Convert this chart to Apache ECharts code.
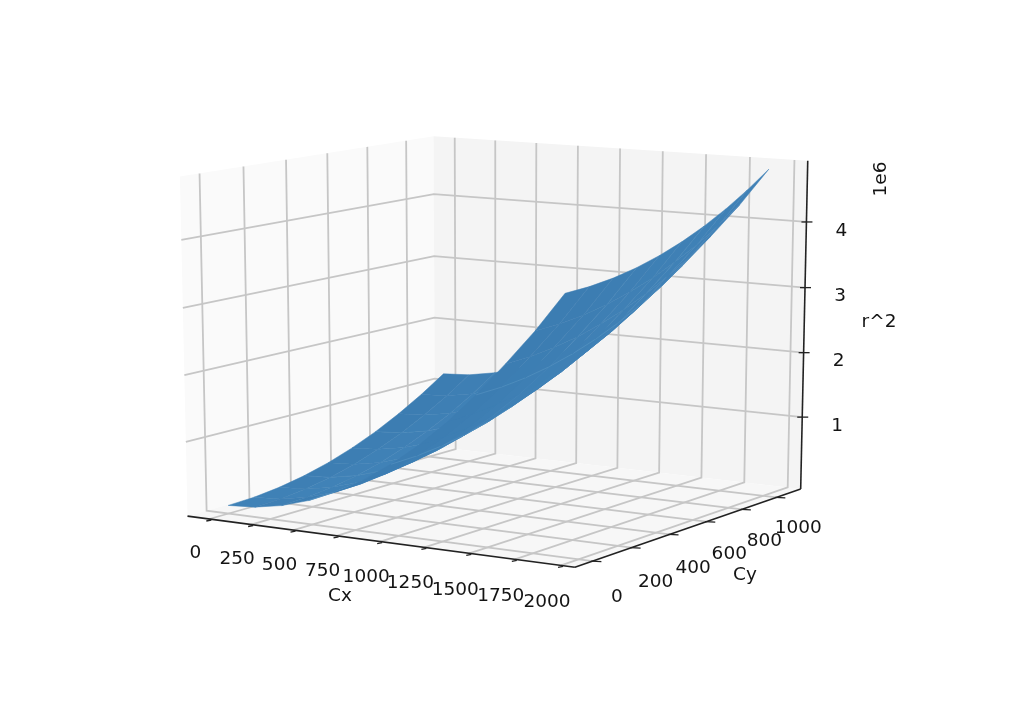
<!DOCTYPE html>
<html>
<head>
<meta charset="utf-8">
<style>html,body{margin:0;padding:0;background:#fff}#chart{width:1024px;height:701px}</style>
<script src="https://cdn.jsdelivr.net/npm/echarts@6/dist/echarts.min.js"></script>
</head>
<body>
<div id="chart"></div>
<script>
// ---- data ----
var cxValues = [0, 160, 320, 480, 640, 800, 960, 1120, 1280, 1440, 1600, 1760, 1920];
var cyValues = [0, 120, 240, 360, 480, 600, 720, 840, 960, 1080];
// r^2 in units of 1e6, one row per Cy value
var r2AtCy0    = [0.000, 0.026, 0.102, 0.230, 0.410, 0.640, 0.922, 1.254, 1.638, 2.074, 2.560, 3.068, 3.636];
var r2AtCy120  = [0.014, 0.040, 0.117, 0.245, 0.424, 0.654, 0.936, 1.269, 1.653, 2.088, 2.574, 3.082, 3.651];
var r2AtCy240  = [0.058, 0.083, 0.160, 0.288, 0.467, 0.698, 0.979, 1.312, 1.696, 2.131, 2.618, 3.125, 3.694];
var r2AtCy360  = [0.130, 0.155, 0.232, 0.360, 0.539, 0.770, 1.051, 1.384, 1.768, 2.203, 2.690, 3.197, 3.766];
var r2AtCy480  = [0.230, 0.256, 0.333, 0.461, 0.640, 0.870, 1.152, 1.485, 1.869, 2.304, 2.790, 3.298, 3.867];
var r2AtCy600  = [0.360, 0.386, 0.462, 0.590, 0.770, 1.000, 1.282, 1.614, 1.998, 2.434, 2.920, 3.428, 3.996];
var r2AtCy720  = [0.518, 0.544, 0.621, 0.749, 0.928, 1.158, 1.440, 1.773, 2.157, 2.592, 3.078, 3.586, 4.155];
var r2AtCy840  = [0.706, 0.731, 0.808, 0.936, 1.115, 1.346, 1.627, 1.960, 2.344, 2.779, 3.266, 3.773, 4.342];
var r2AtCy960  = [0.922, 0.947, 1.024, 1.152, 1.331, 1.562, 1.843, 2.176, 2.560, 2.995, 3.482, 3.989, 4.558];
var r2AtCy1080 = [1.166, 1.192, 1.269, 1.397, 1.576, 1.806, 2.088, 2.421, 2.805, 3.240, 3.726, 4.234, 4.803];
var r2Rows = [r2AtCy0, r2AtCy120, r2AtCy240, r2AtCy360, r2AtCy480, r2AtCy600, r2AtCy720, r2AtCy840, r2AtCy960, r2AtCy1080];
var cxTicks = [0, 250, 500, 750, 1000, 1250, 1500, 1750, 2000];
var cyTicks = [0, 200, 400, 600, 800, 1000];
var r2Ticks = [1, 2, 3, 4];
var cxLabel = 'Cx', cyLabel = 'Cy', r2Label = 'r^2', r2Offset = '1e6';

// ---- 3D view (same perspective model as a mplot3d camera) ----
var xLim = [-131.8, 2074.1], yLim = [-87.3, 1144.9], zLim = [-0.125, 4.923];
var elev = 11.696 * Math.PI / 180, azim = -57.779 * Math.PI / 180, dist = 8.592;
var n = [Math.cos(elev) * Math.cos(azim), Math.cos(elev) * Math.sin(azim), Math.sin(elev)];
var u = [-Math.sin(azim), Math.cos(azim), 0];
var v = [n[1] * u[2] - n[2] * u[1], n[2] * u[0] - n[0] * u[2], n[0] * u[1] - n[1] * u[0]];
function dot(a, b) { return a[0] * b[0] + a[1] * b[1] + a[2] * b[2]; }
function toCube(p) {
  return [(p[0] - xLim[0]) / (xLim[1] - xLim[0]) - 0.5,
          (p[1] - yLim[0]) / (yLim[1] - yLim[0]) - 0.5,
          (p[2] - zLim[0]) / (zLim[1] - zLim[0]) - 0.5];
}
function depth(p) { return dot(n, toCube(p)); }
function project(p) {
  var q = toCube(p), k = dist / (dist - dot(n, q));
  return [dot(u, q) * k, dot(v, q) * k];
}

// plane scale: page px = 499.5 + 449.7*s, py = 337.4 - 340.75*t
var planeX = [-499.5 / 449.7, (1024 - 499.5) / 449.7];
var planeY = [(337.4 - 701) / 340.75, 337.4 / 340.75];

var textColor = '#141414', font = '18.5px "DejaVu Sans"';
var gridColor = '#c6c6c6', axisColor = '#222222';

function poly(api, pts, fill) {
  return { type: 'polygon', shape: { points: pts.map(function (p) { return api.coord(project(p)); }) },
           style: { fill: fill, stroke: null } };
}
function line(api, pts, color, width) {
  return { type: 'polyline', shape: { points: pts.map(function (p) { return api.coord(project(p)); }) },
           style: { stroke: color, lineWidth: width, fill: null } };
}
function label(c, dx, dy, text, rot) {
  return { type: 'text', x: c[0] + dx, y: c[1] + dy, rotation: rot || 0,
           style: { text: String(text), x: 0, y: 0, fill: textColor, font: font, align: 'center', verticalAlign: 'middle' } };
}
function tick(c, a, b, d, e) {
  return { type: 'line', shape: { x1: c[0] + a, y1: c[1] + b, x2: c[0] + d, y2: c[1] + e },
           style: { stroke: axisColor, lineWidth: 1.3 } };
}

function renderFrame(params, api) {
  var x0 = xLim[0], x1 = xLim[1], y0 = yLim[0], y1 = yLim[1], z0 = zLim[0], z1 = zLim[1];
  var ch = [];
  ch.push(poly(api, [[x0, y0, z0], [x0, y1, z0], [x0, y1, z1], [x0, y0, z1]], '#fafafa'));
  ch.push(poly(api, [[x0, y1, z0], [x1, y1, z0], [x1, y1, z1], [x0, y1, z1]], '#f4f4f4'));
  ch.push(poly(api, [[x0, y0, z0], [x1, y0, z0], [x1, y1, z0], [x0, y1, z0]], '#f7f7f7'));
  cxTicks.forEach(function (t) { ch.push(line(api, [[t, y0, z0], [t, y1, z0], [t, y1, z1]], gridColor, 1.8)); });
  cyTicks.forEach(function (t) { ch.push(line(api, [[x1, t, z0], [x0, t, z0], [x0, t, z1]], gridColor, 1.8)); });
  r2Ticks.forEach(function (t) { ch.push(line(api, [[x0, y0, t], [x0, y1, t], [x1, y1, t]], gridColor, 1.8)); });
  ch.push(line(api, [[x0, y0, z0], [x1, y0, z0]], axisColor, 1.6));
  ch.push(line(api, [[x1, y0, z0], [x1, y1, z0]], axisColor, 1.6));
  ch.push(line(api, [[x1, y1, z0], [x1, y1, z1]], axisColor, 1.6));
  cxTicks.forEach(function (t, k) {
    var c = api.coord(project([t, y0, z0]));
    ch.push(tick(c, -3, 2, 2, 1));
    ch.push(label(c, -14, 34 + k * 0.4, t));
  });
  cyTicks.forEach(function (t, k) {
    var c = api.coord(project([x1, t, z0]));
    ch.push(tick(c, -1, 0, 9, 0.5));
    ch.push(label(c, 24.5 - k * 0.5, 36 - k, t));
  });
  r2Ticks.forEach(function (t) {
    var c = api.coord(project([x1, y1, t]));
    ch.push(tick(c, -5, 0, 6, 0));
    ch.push(label(c, 35, 9, t));
  });
  ch.push({ type: 'text', x: 340, y: 596, style: { text: cxLabel, x: 0, y: 0, fill: textColor, font: font, align: 'center', verticalAlign: 'middle' } });
  ch.push({ type: 'text', x: 745, y: 575, style: { text: cyLabel, x: 0, y: 0, fill: textColor, font: font, align: 'center', verticalAlign: 'middle' } });
  ch.push({ type: 'text', x: 879, y: 322, style: { text: r2Label, x: 0, y: 0, fill: textColor, font: font, align: 'center', verticalAlign: 'middle' } });
  ch.push(label([881, 179], 0, 0, r2Offset, Math.PI / 2));
  return { type: 'group', children: ch };
}

// quads of the surface, farthest first
var quads = [];
for (var j = 0; j < cyValues.length - 1; j++) {
  for (var i = 0; i < cxValues.length - 1; i++) {
    var corners = [[i, j], [i + 1, j], [i + 1, j + 1], [i, j + 1]].map(function (c) {
      return [cxValues[c[0]], cyValues[c[1]], r2Rows[c[1]][c[0]]];
    });
    var d = corners.reduce(function (s, p) { return s + depth(p); }, 0) / 4;
    quads.push([d, i, j]);
  }
}
quads.sort(function (a, b) { return a[0] - b[0]; });

function mix(a, b, t) {
  return 'rgb(' + [0, 1, 2].map(function (k) { return Math.round(a[k] + (b[k] - a[k]) * t); }).join(',') + ')';
}
function renderQuad(params, api) {
  var i = api.value(1), j = api.value(2);
  var c = [[i, j], [i + 1, j], [i + 1, j + 1], [i, j + 1]].map(function (k) {
    return [cxValues[k[0]], cyValues[k[1]], r2Rows[k[1]][k[0]]];
  });
  // orientation of the facet against a light from (-1,-1,1)
  var ax = c[2][0] - c[0][0], ay = c[2][1] - c[0][1], az = (c[2][2] - c[0][2]) * 1e6;
  var bx = c[3][0] - c[1][0], by = c[3][1] - c[1][1], bz = (c[3][2] - c[1][2]) * 1e6;
  var nx = ay * bz - az * by, ny = az * bx - ax * bz, nz = ax * by - ay * bx;
  var len = Math.sqrt(nx * nx + ny * ny + nz * nz);
  var s = Math.abs((-nx - ny + nz) / len / Math.sqrt(3));
  var t = Math.max(0, Math.min(1, (s - 0.62) / 0.36));
  var fill = mix([60, 125, 178], [68, 134, 187], t);
  var pts = c.map(function (p) { return api.coord(project(p)); });
  var ch = [{ type: 'polygon', shape: { points: pts }, style: { fill: fill, stroke: fill, lineWidth: 0.5 } }];
  // faint mesh seams on every few grid lines
  var seam = 'rgba(135,185,220,0.28)';
  if (i > 0 && i % 3 === 0) ch.push({ type: 'polyline', shape: { points: [pts[0], pts[3]] }, style: { stroke: seam, lineWidth: 0.8, fill: null } });
  if (j > 0 && j % 3 === 0) ch.push({ type: 'polyline', shape: { points: [pts[0], pts[1]] }, style: { stroke: seam, lineWidth: 0.8, fill: null } });
  return { type: 'group', children: ch };
}

var chart = echarts.init(document.getElementById('chart'), null, { renderer: 'canvas' });
chart.setOption({
  animation: false,
  backgroundColor: '#ffffff',
  grid: { left: 0, right: 0, top: 0, bottom: 0, containLabel: false },
  xAxis: { type: 'value', min: planeX[0], max: planeX[1], show: false },
  yAxis: { type: 'value', min: planeY[0], max: planeY[1], show: false },
  series: [
    { type: 'custom', name: 'frame', silent: true, clip: false, z: 1, data: [[0]], renderItem: renderFrame, encode: { x: 0, y: 0 } },
    { type: 'custom', name: 'surface', silent: true, clip: false, z: 2, data: quads, renderItem: renderQuad, encode: { x: 0, y: 0 } }
  ]
});
</script>
</body>
</html>
